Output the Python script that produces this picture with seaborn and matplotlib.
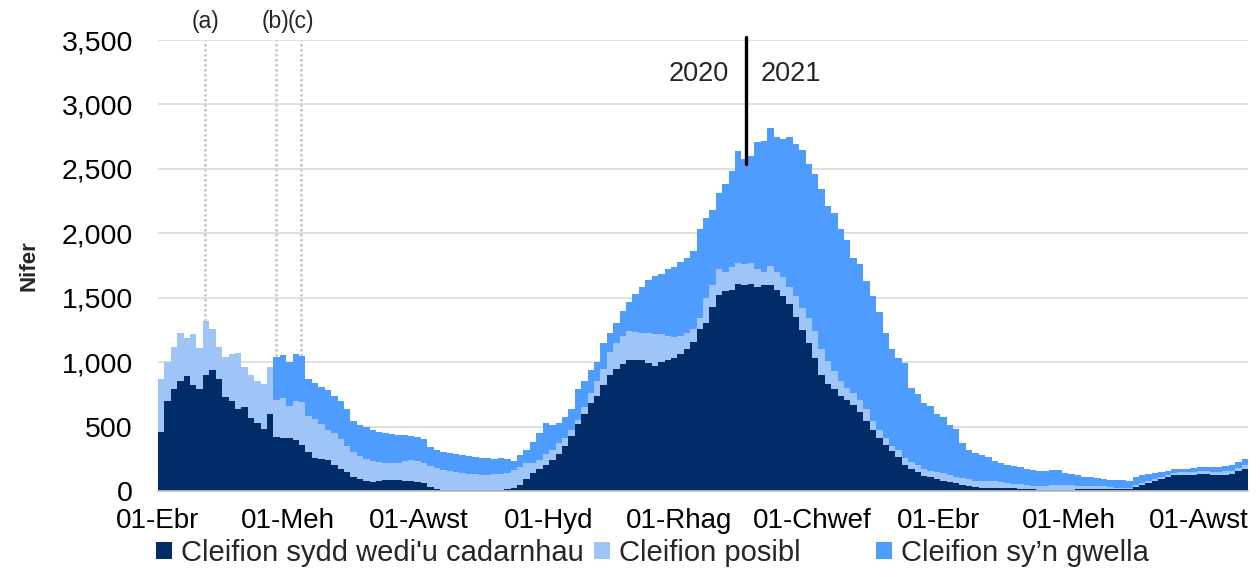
import numpy as np
import pandas as pd
import matplotlib
matplotlib.use('Agg')
import matplotlib.pyplot as plt
import matplotlib.dates as mdates
from matplotlib.patches import Patch
from matplotlib.ticker import FuncFormatter
import seaborn as sns

sns.set_theme(style='white')
plt.rcParams['font.family'] = ['Liberation Sans', 'DejaVu Sans']

# ---- data: 3-day blocks from 01-Apr-2020 to 23-Aug-2021 ----
start = pd.Timestamp('2020-04-01')
end = pd.Timestamp('2021-08-24')
block_dates = pd.date_range(start + pd.Timedelta(hours=36), periods=170, freq='3D')

confirmed = [
    460, 700, 790, 850, 890, 820, 790, 900, 940, 870, 730, 700, 640, 650, 570, 530, 480, 600,
    420, 415, 410, 395, 360, 300, 255, 245, 240, 200, 170, 145, 110, 90, 80, 72, 75, 82,
    85, 85, 80, 75, 72, 60, 30, 15, 8, 8, 6, 8, 6, 6, 6, 8, 8, 10,
    12, 20, 50, 90, 140, 170, 205, 240, 290, 350, 430, 520, 600, 680, 740, 820, 900, 950,
    985, 1015, 1020, 1015, 990, 970, 1000, 1020, 1035, 1060, 1100, 1160, 1260, 1300, 1430, 1520,
    1550, 1560, 1610, 1600, 1610, 1580, 1600, 1600, 1560, 1510, 1450, 1350, 1250, 1150, 1030, 900,
    830, 790, 740, 710, 670, 610, 540, 470, 410, 360, 310, 260, 205, 170, 150, 118, 105, 95,
    80, 70, 62, 45, 35, 28, 25, 24, 24, 24, 22, 20, 18, 15, 12, 11, 11, 11,
    11, 11, 11, 12, 13, 13, 13, 13, 13, 13, 13, 14, 30, 45, 62, 78, 90, 108,
    122, 124, 124, 126, 130, 130, 125, 124, 128, 132, 155, 172,
]
suspected = [
    410, 300, 330, 380, 300, 400, 320, 420, 320, 250, 310, 360, 430, 310, 330, 320, 350, 360,
    290, 305, 250, 305, 330, 280, 305, 275, 235, 250, 230, 205, 190, 180, 170, 158, 150, 136,
    130, 135, 150, 165, 163, 155, 165, 165, 157, 147, 142, 132, 129, 124, 119, 116, 122, 125,
    128, 140, 135, 130, 80, 70, 80, 80, 80, 60, 40, 30, 50, 80, 110, 130, 180, 200,
    215, 225, 215, 215, 235, 250, 215, 185, 160, 145, 130, 100, 80, 200, 170, 200,
    150, 180, 160, 160, 160, 140, 100, 150, 140, 150, 130, 160, 170, 190, 210, 200,
    180, 140, 110, 90, 90, 100, 100, 70, 60, 50, 40, 60, 52, 55, 55, 52, 53, 55,
    62, 55, 50, 58, 60, 50, 51, 51, 51, 44, 40, 38, 34, 33, 30, 27, 29, 37,
    39, 37, 35, 30, 27, 27, 25, 22, 17, 14, 13, 12, 15, 15, 16, 14, 15, 17,
    21, 21, 22, 24, 26, 22, 21, 24, 24, 26, 27, 33,
]
recovering = [
    0, 0, 0, 0, 0, 0, 0, 0, 0, 0, 0, 0, 0, 0, 0, 0, 0, 0,
    330, 335, 340, 360, 360, 290, 280, 290, 305, 290, 300, 290, 240, 245, 250, 245, 235, 232,
    225, 215, 205, 185, 185, 185, 145, 135, 140, 140, 137, 140, 135, 135, 130, 131, 120, 120,
    105, 70, 95, 100, 160, 210, 240, 195, 160, 165, 170, 240, 200, 180, 150, 200, 150, 150,
    200, 230, 295, 350, 415, 450, 470, 515, 545, 575, 580, 600, 690, 620, 580, 590,
    680, 740, 870, 820, 830, 990, 1020, 1070, 1050, 1070, 1170, 1180, 1230, 1200, 1220, 1240,
    1200, 1230, 1180, 1150, 1050, 1050, 990, 970, 920, 820, 750, 710, 733, 575, 545, 510, 502, 450,
    433, 385, 368, 267, 225, 217, 204, 185, 160, 147, 143, 137, 133, 122, 120, 117, 115, 112,
    110, 94, 89, 83, 68, 65, 62, 57, 58, 60, 58, 54, 65, 62, 54, 46, 40, 33,
    27, 27, 26, 28, 28, 32, 38, 40, 40, 42, 40, 45,
]

series_names = ["Cleifion sydd wedi'u cadarnhau", "Cleifion posibl", "Cleifion sy\u2019n gwella"]
series_colors = ['#002D67', '#9FC5F8', '#4D9CFE']

tick_dates = pd.to_datetime(['2020-04-01', '2020-06-01', '2020-08-01', '2020-10-01', '2020-12-01',
                             '2021-02-01', '2021-04-01', '2021-06-01', '2021-08-01'])
tick_labels = ['01-Ebr', '01-Meh', '01-Awst', '01-Hyd', '01-Rhag',
               '01-Chwef', '01-Ebr', '01-Meh', '01-Awst']

event_dates = pd.to_datetime(['2020-04-23', '2020-05-26', '2020-06-07'])
event_labels = ['(a)', '(b)', '(c)']
year_break = pd.Timestamp('2021-01-01')

df = pd.DataFrame({
    'date': np.tile(block_dates, 3),
    'series': np.repeat(series_names, len(block_dates)),
    'value': confirmed + suspected + recovering,
})

fig = plt.figure(figsize=(12.57, 5.76), dpi=100)
ax = fig.add_axes([158 / 1257, 1 - 491 / 576, 1090 / 1257, 451 / 576])

# reference lines (behind the data)
for d in event_dates:
    ax.axvline(d, color='#c4c4c4', lw=1.8, ls=(0, (1, 1)), zorder=0.5)

# stacked areas: first hue level ends up on top, so reverse the order
sns.histplot(data=df, x='date', weights='value', hue='series',
             hue_order=series_names[::-1],
             palette=dict(zip(series_names, series_colors)),
             multiple='stack', element='step', fill=True,
             binwidth=3, binrange=(mdates.date2num(start), mdates.date2num(end)),
             alpha=1, linewidth=0, legend=False, ax=ax)

ax.set_xlim(start, end)
ax.set_ylim(0, 3500)
ax.set_yticks(range(0, 3501, 500))
ax.yaxis.set_major_formatter(FuncFormatter(lambda v, p: f'{v:,.0f}'))
ax.set_xticks(tick_dates)
ax.set_xticklabels(tick_labels)
ax.set_xlabel('')
ax.set_ylabel('Nifer', fontsize=16, fontweight='bold', labelpad=16)

ax.yaxis.grid(True, color='#d9d9d9', lw=1.2)
ax.set_axisbelow(True)
for s in ['left', 'top', 'right']:
    ax.spines[s].set_visible(False)
ax.spines['bottom'].set_color('#bfbfbf')
ax.tick_params(axis='x', length=6, color='#bfbfbf', labelsize=20, pad=6, labelcolor='#000000')
ax.tick_params(axis='y', length=0, labelsize=20.5, pad=18, labelcolor='#000000')

# event labels above the plot
for d, lab in zip(event_dates, event_labels):
    ax.text(d, 1.04, lab, transform=ax.get_xaxis_transform(), ha='center', va='center', fontsize=16.5)

# 2020 | 2021 divider
ax.plot([year_break, year_break], [2540, 3520], color='black', lw=2.4, clip_on=False, zorder=5)
ax.annotate('2020', (year_break, 3240), xytext=(-12, 0), textcoords='offset points',
            ha='right', va='center', fontsize=19.5)
ax.annotate('2021', (year_break, 3240), xytext=(11, 0), textcoords='offset points',
            ha='left', va='center', fontsize=19.5)

# legend entries spread along the bottom
legend_x = [156 / 1257, 594 / 1257, 876 / 1257]
for name, col, lx in zip(series_names, series_colors, legend_x):
    fig.legend(handles=[Patch(facecolor=col, edgecolor='none')], labels=[name],
               loc='center left', bbox_to_anchor=(lx, 0.04), frameon=False, fontsize=21,
               handlelength=0.55, handleheight=0.55, handletextpad=0.3, borderpad=0, borderaxespad=0)

fig.savefig('out.png', dpi=100)
